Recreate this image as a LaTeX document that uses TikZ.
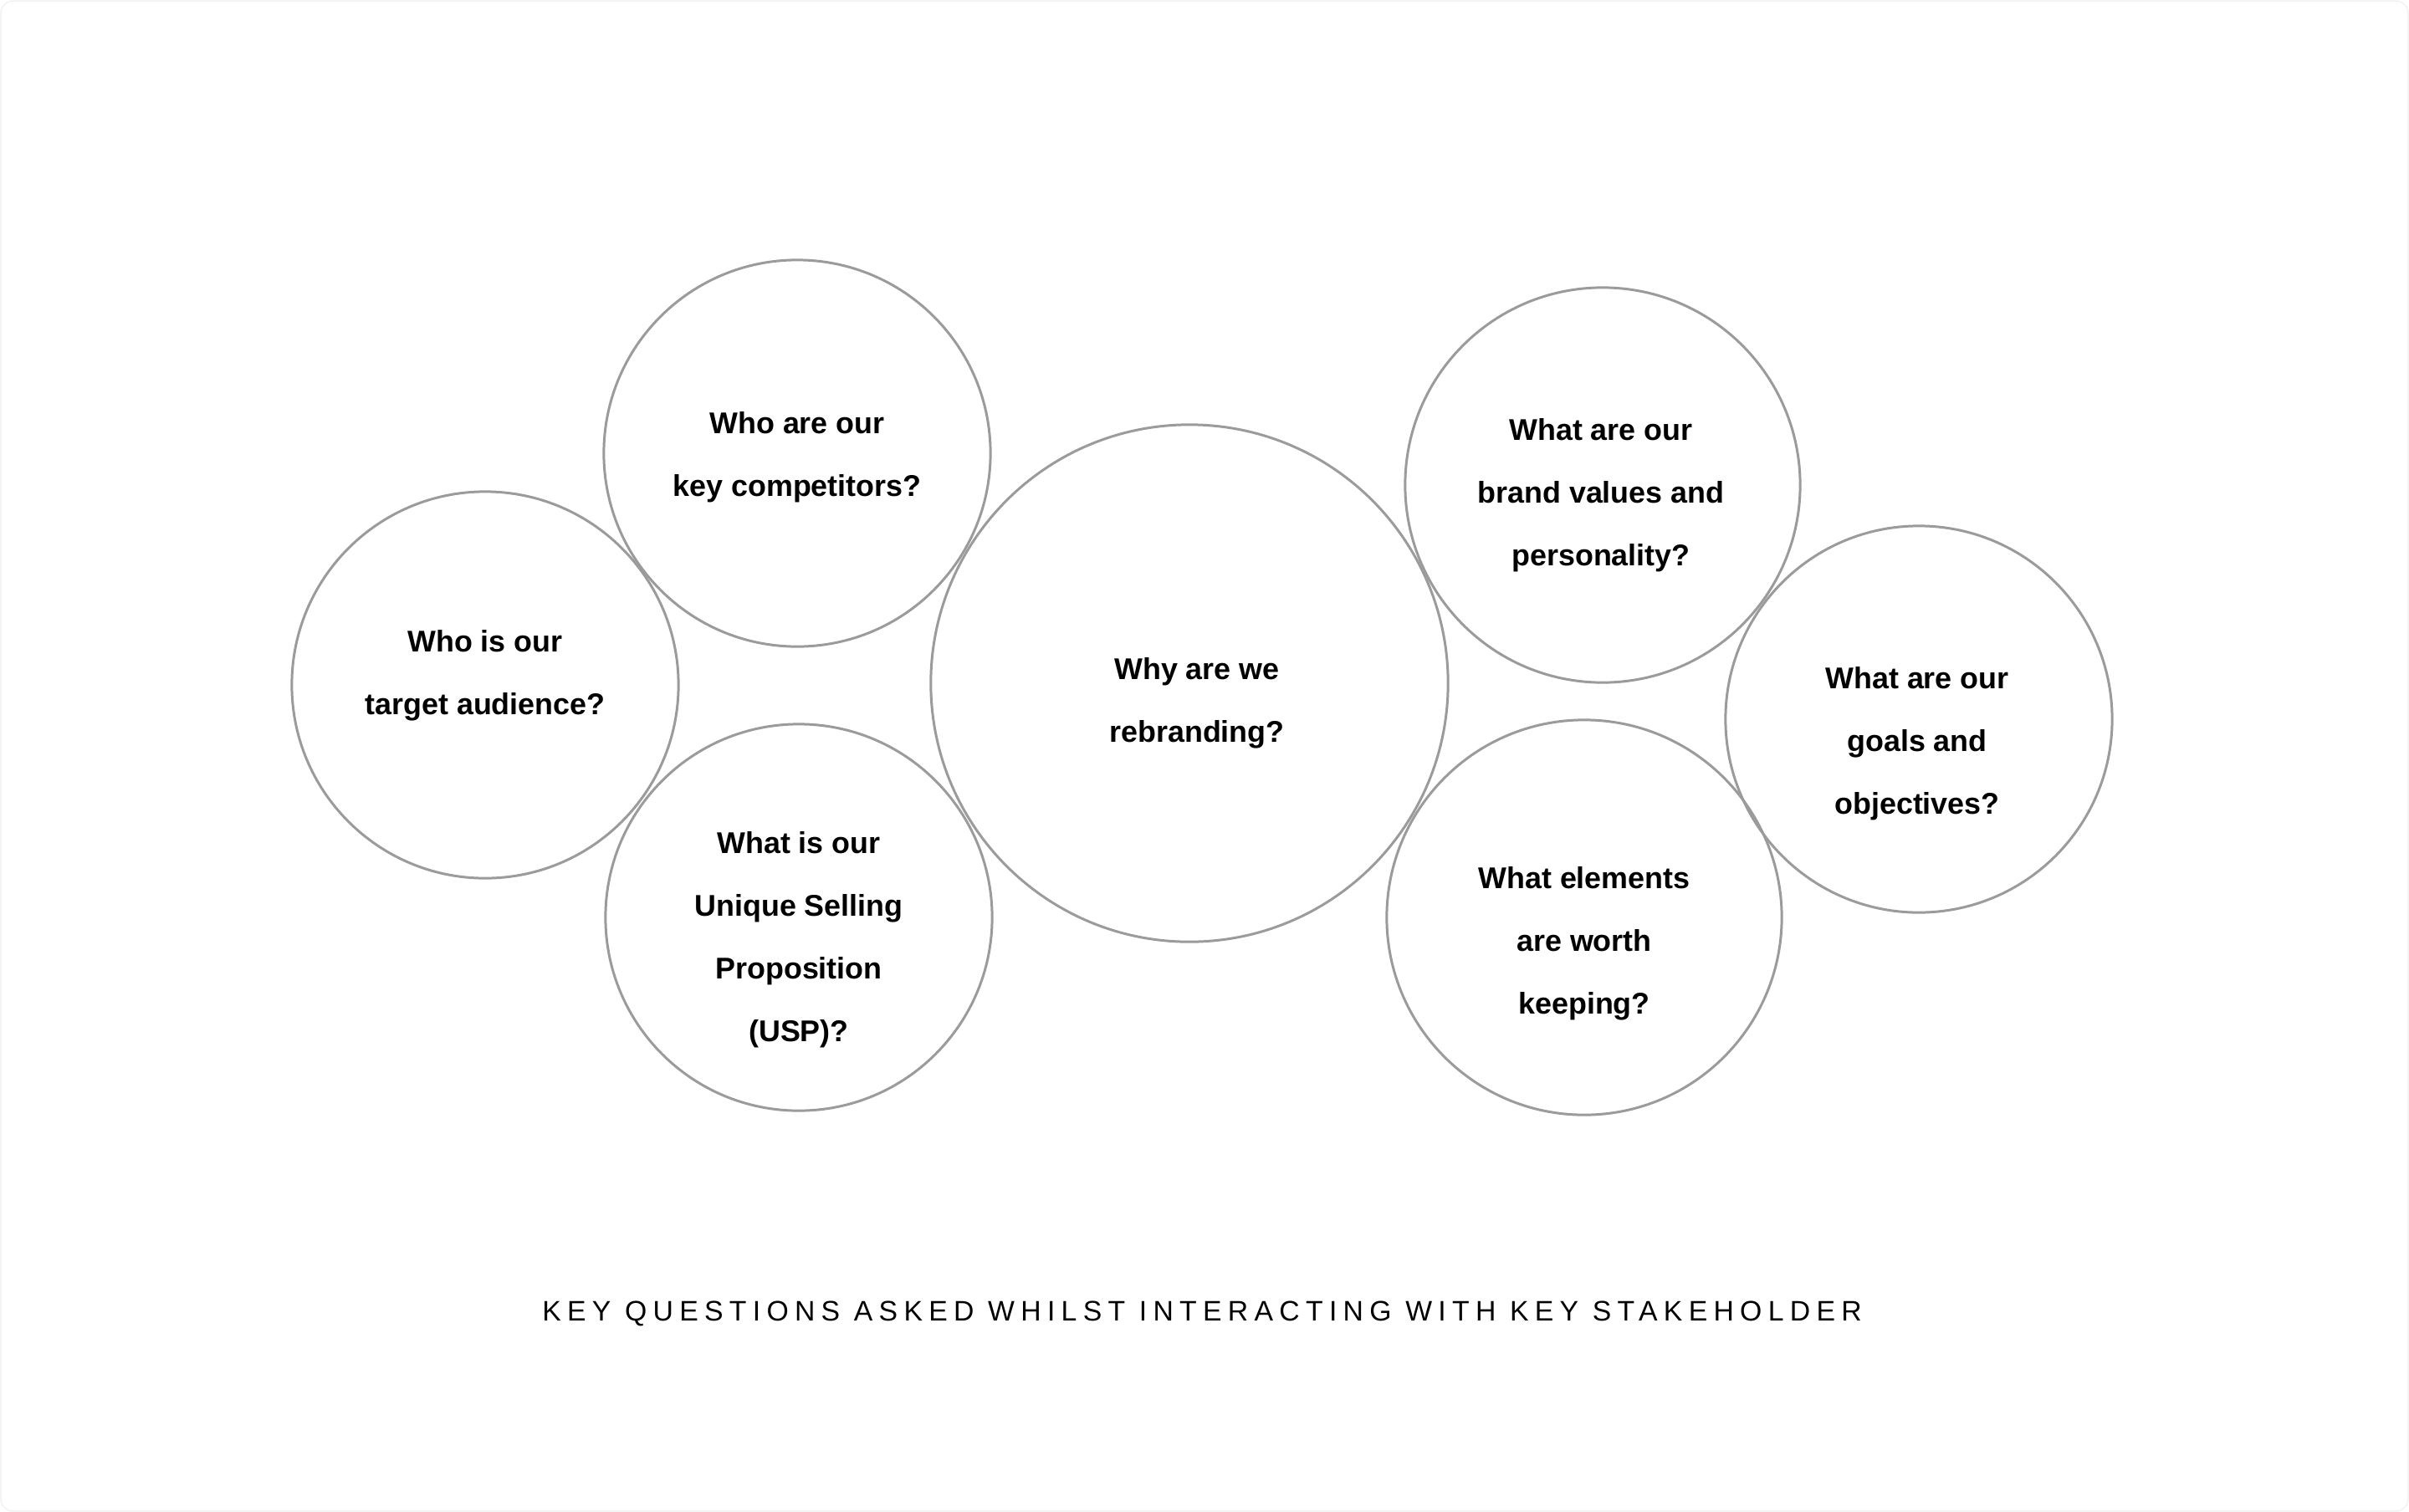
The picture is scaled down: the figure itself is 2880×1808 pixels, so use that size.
\documentclass[tikz,border=0pt]{standalone}
\usepackage{fontspec}
\setmainfont{Liberation Sans}
\definecolor{ringgray}{RGB}{155,155,155}
\definecolor{framegray}{RGB}{238,238,238}

\begin{document}
\begin{tikzpicture}[x=0.01cm, y=-0.01cm,
  ring/.style={circle, draw=ringgray, line width=0.85pt, inner sep=0pt},
  question/.style={align=center, font=\bfseries\fontsize{10.2}{21.3}\selectfont},
  caption/.style={font=\fontsize{9.6}{11}\selectfont\addfontfeatures{LetterSpace=21.6}}]
\useasboundingbox (0, 0) rectangle (2880, 1808);
\draw [framegray, line width=0.3pt, rounded corners=0.15cm, fill=white] (1, 1) rectangle (2879, 1807);
\node (c1) at (580, 819) [ring, minimum size=4.62cm] {};
\node (c2) at (953, 542) [ring, minimum size=4.62cm] {};
\node (c3) at (955, 1097) [ring, minimum size=4.62cm] {};
\node (c4) at (1422, 817) [ring, minimum size=6.18cm] {};
\node (c5) at (1916, 580) [ring, minimum size=4.72cm] {};
\node (c6) at (1894, 1097) [ring, minimum size=4.72cm] {};
\node (c7) at (2294, 860) [ring, minimum size=4.62cm] {};
\node (t1) at (580, 808) [question] {Who is our\\target audience?};
\node (t2) at (953, 547) [question] {Who are our\\key competitors?};
\node (t3) at (955, 1124) [question] {What is our\\Unique Selling\\Proposition\\(USP)?};
\node (t4) at (1431, 841) [question] {Why are we\\rebranding?};
\node (t5) at (1914, 592) [question] {What are our\\brand values and\\personality?};
\node (t6) at (1894, 1128) [question] {What elements\\are worth\\keeping?};
\node (t7) at (2292, 889) [question] {What are our\\goals and\\objectives?};
\node (cap) at (1437, 1571) [caption] {KEY QUESTIONS ASKED WHILST INTERACTING WITH KEY STAKEHOLDER};
\end{tikzpicture}
\end{document}
